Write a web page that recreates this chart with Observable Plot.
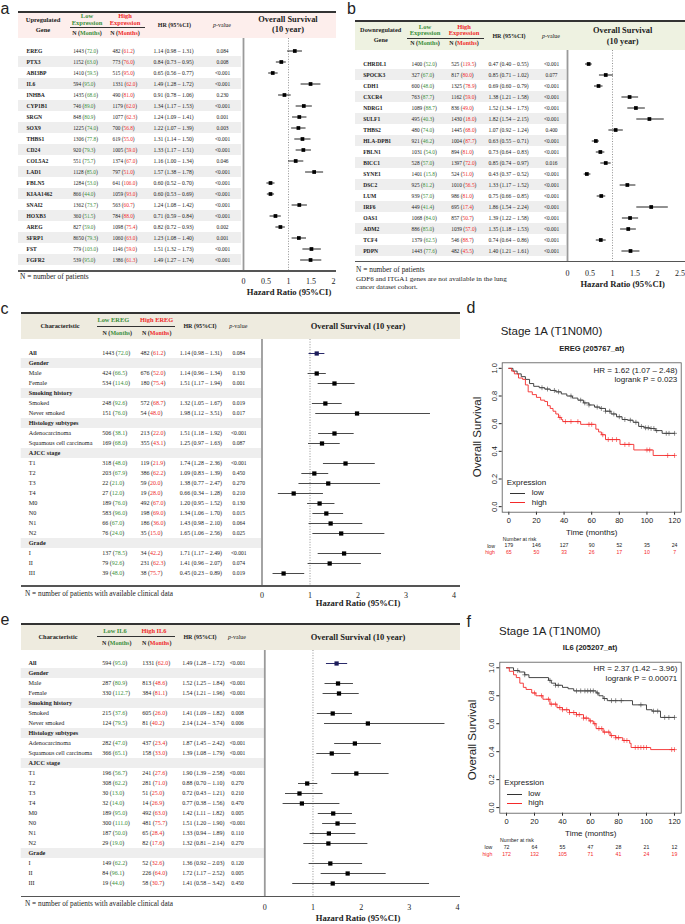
<!DOCTYPE html>
<html><head><meta charset="utf-8">
<script src="https://cdn.jsdelivr.net/npm/d3@7"></script>
<script src="https://cdn.jsdelivr.net/npm/@observablehq/plot@0.6"></script>
<style>
body{margin:0;background:#fff;}
#page{position:relative;width:685px;height:924px;overflow:hidden;background:#fff;font-family:"Liberation Serif","Times New Roman",serif;color:#222;}
#page svg{position:absolute;left:0;top:0;}
.t{position:absolute;white-space:nowrap;line-height:1;}
.ln{position:absolute;}
</style></head><body><div id="page"></div><script>
// ---------------- DATA ----------------
// Panel a: upregulated genes
const upGenes = ["EREG","PTX3","ABI3BP","IL6","INHBA","CYP1B1","SRGN","SOX9","THBS1","CD24","COL5A2","LAD1","FBLN5","KIAA1462","SNAI2","HOXB3","AREG","SFRP1","FST","FGFR2"];
const upLowN = [1443,1152,1410,594,1435,746,848,1225,1306,920,551,1128,1284,866,1362,360,827,8650,779,539];
const upLowM = [72.0,63.0,59.5,95.0,68.6,89.0,80.9,74.0,77.8,79.3,75.7,85.0,53.0,44.0,73.7,51.5,59.0,79.3,103.0,95.0];
const upHighN = [482,773,515,1331,490,1179,1077,700,619,1005,1374,797,641,1059,563,784,1098,1060,1146,1386];
const upHighM = [61.2,76.0,95.0,62.0,81.0,62.0,62.3,56.8,55.0,59.0,67.0,51.0,106.0,93.0,60.7,88.0,75.4,63.0,59.0,61.3];
const upHR = [1.14,0.84,0.65,1.49,0.91,1.34,1.24,1.22,1.31,1.33,1.16,1.57,0.60,0.60,1.24,0.71,0.82,1.23,1.51,1.49];
const upLo = [0.98,0.73,0.56,1.28,0.78,1.17,1.09,1.07,1.14,1.17,1.00,1.38,0.52,0.53,1.08,0.59,0.72,1.08,1.32,1.27];
const upHi = [1.31,0.95,0.77,1.72,1.06,1.53,1.41,1.39,1.50,1.51,1.34,1.78,0.70,0.69,1.42,0.84,0.93,1.40,1.73,1.74];
const upP = ["0.084","0.008","<0.001","<0.001","0.230","<0.001","0.001","0.003","<0.001","<0.001","0.046","<0.001","<0.001","<0.001","<0.001","<0.001","0.002","0.001","<0.001","<0.001"];

// Panel b: downregulated genes
const downGenes = ["CHRDL1","SPOCK3","CDH1","CXCR4","NDRG1","SULF1","THBS2","HLA-DPB1","FBLN1","BICC1","SYNE1","DSC2","LUM","IRF6","OAS1","ADM2","TCF4","PDPN"];
const downLowN = [1400,327,600,763,1089,495,480,921,1031,528,1401,925,939,449,1068,886,1379,1443];
const downLowM = [52.0,67.0,48.0,87.7,88.7,40.3,74.0,46.2,54.0,57.0,15.8,81.2,57.0,41.4,84.0,85.0,62.5,77.6];
const downHighN = [525,817,1325,1162,836,1430,1445,1004,894,1397,524,1010,986,695,857,1039,546,482];
const downHighM = [119.5,80.0,78.9,59.0,49.0,18.0,68.0,87.7,81.0,72.0,51.0,56.5,81.0,17.4,50.7,57.0,88.7,45.5];
const downHR = [0.47,0.85,0.69,1.38,1.52,1.82,1.07,0.63,0.73,0.85,0.43,1.33,0.75,1.86,1.39,1.35,0.74,1.40];
const downLo = [0.40,0.71,0.60,1.21,1.34,1.54,0.92,0.55,0.64,0.74,0.37,1.17,0.66,1.54,1.22,1.18,0.64,1.21];
const downHi = [0.55,1.02,0.79,1.58,1.73,2.15,1.24,0.71,0.83,0.97,0.52,1.52,0.85,2.24,1.58,1.53,0.86,1.61];
const downP = ["<0.001","0.077","<0.001","<0.001","<0.001","<0.001","0.400","<0.001","<0.001","0.016","<0.001","<0.001","<0.001","<0.001","<0.001","<0.001","<0.001","<0.001"];

// Panels c & e: clinical subgroups
const clinLabels = ["All","Gender","Male","Female","Smoking history","Smoked","Never smoked","Histology subtypes","Adenocarcinoma","Squamous cell carcinoma","AJCC stage","T1","T2","T3","T4","M0","N0","N1","N2","Grade","I","II","III"];
const clinGroups = ["All","Gender","Smoking history","Histology subtypes","AJCC stage","Grade"];

const eregLowN = [1443,null,424,534,null,248,151,null,506,169,null,318,203,22,27,189,583,66,76,null,137,79,39];
const eregLowM = [72.0,null,66.5,114.0,null,92.6,76.0,null,38.1,68.0,null,48.0,67.9,21.0,12.0,76.0,96.0,67.0,24.0,null,78.5,92.6,48.0];
const eregHighN = [482,null,676,180,null,572,54,null,213,355,null,119,386,59,19,492,198,186,35,null,34,231,38];
const eregHighM = [61.2,null,52.0,75.4,null,68.7,48.0,null,22.0,43.1,null,21.9,62.2,20.0,28.0,67.0,69.0,36.0,15.0,null,42.2,62.3,75.7];
const eregHR = [1.14,null,1.14,1.51,null,1.32,1.98,null,1.51,1.25,null,1.74,1.09,1.38,0.66,1.20,1.34,1.43,1.65,null,1.71,1.41,0.45];
const eregLo = [0.98,null,0.96,1.17,null,1.05,1.12,null,1.18,0.97,null,1.28,0.83,0.77,0.34,0.95,1.06,0.98,1.06,null,1.17,0.96,0.23];
const eregHi = [1.31,null,1.34,1.94,null,1.67,3.51,null,1.92,1.63,null,2.36,1.39,2.47,1.28,1.52,1.70,2.10,2.56,null,2.49,2.07,0.89];
const eregP = ["0.084",null,"0.130","0.001",null,"0.019","0.017",null,"<0.001","0.087",null,"<0.001","0.450","0.270","0.210","0.130","0.015","0.064","0.025",null,"<0.001","0.074","0.019"];

const il6LowN = [594,null,287,330,null,215,124,null,282,366,null,196,308,30,32,189,300,187,29,null,149,84,19];
const il6LowM = [95.0,null,80.9,112.7,null,37.6,79.5,null,47.0,65.1,null,56.7,62.2,13.0,14.0,95.0,111.0,50.0,19.0,null,62.2,96.1,44.0];
const il6HighN = [1331,null,813,384,null,605,81,null,437,158,null,241,281,51,14,492,481,65,82,null,52,226,58];
const il6HighM = [62.0,null,48.6,81.1,null,26.0,40.2,null,23.4,33.0,null,27.6,71.0,25.0,26.9,63.0,75.7,28.4,17.6,null,32.6,64.0,30.7];
const il6HR = [1.49,null,1.52,1.54,null,1.41,2.14,null,1.87,1.39,null,1.90,0.88,0.72,0.77,1.42,1.51,1.33,1.32,null,1.36,1.72,1.41];
const il6Lo = [1.28,null,1.25,1.21,null,1.09,1.24,null,1.45,1.08,null,1.39,0.70,0.43,0.38,1.11,1.20,0.94,0.81,null,0.92,1.17,0.58];
const il6Hi = [1.72,null,1.84,1.96,null,1.82,3.74,null,2.42,1.79,null,2.58,1.10,1.21,1.56,1.82,1.90,1.89,2.14,null,2.03,2.52,3.42];
const il6P = ["<0.001",null,"<0.001","<0.001",null,"0.008","0.006",null,"<0.001","<0.001",null,"<0.001","0.270","0.210","0.470","0.005","<0.001","0.110","0.270",null,"0.120","0.005","0.450"];

// Forest axis ticks
const ticksA = [0,0.5,1,1.5,2];
const ticksB = [0,0.5,1,1.5,2,2.5];
const ticksCE = [0,1,2,3,4];

// Panel d: EREG Kaplan–Meier
const eregLowT = [0,3,6,9,12,15,18,22,26,30,34,38,42,46,50,54,58,62,66,70,74,78,82,86,90,94,98,102,106,111,120];
const eregLowS = [1.0,0.98,0.96,0.94,0.92,0.89,0.87,0.86,0.85,0.84,0.83,0.815,0.80,0.785,0.77,0.75,0.735,0.72,0.71,0.69,0.67,0.65,0.63,0.625,0.61,0.58,0.57,0.565,0.55,0.53,0.53];
const eregHighT = [0,2,4,7,10,12,14,17,20,23,26,28,30,32,34,36,38,39,52,63,65,67,70,80.5,90.5,104.5,120];
const eregHighS = [1.0,0.98,0.96,0.93,0.92,0.88,0.83,0.81,0.79,0.77,0.76,0.73,0.71,0.69,0.67,0.645,0.63,0.615,0.595,0.56,0.54,0.52,0.485,0.45,0.41,0.37,0.37];
const eregLowCens = [24,28,33,36,45,52,55,58,64,67,70,73,76,80,84,88,92,96,99,101,103,105,107,114,116,120];
const eregHighCens = [37,41,45,50,58,60,68,72,75,78,84,87,100,102,115,120];
// Panel f: IL6 Kaplan–Meier
const il6LowT = [0,5,9,13,16,30,32,35,40,44,48,64,66,69,72,90,100,104,110,120];
const il6LowS = [1.0,0.98,0.97,0.95,0.93,0.91,0.89,0.875,0.86,0.85,0.835,0.82,0.80,0.78,0.765,0.735,0.70,0.69,0.645,0.645];
const il6HighT = [0,2,5,7,9.5,12,14,18,21,26,31,36,40,45,50,55,59,62,64,69,74,78,83,88,89,103,120];
const il6HighS = [1,0.975,0.95,0.93,0.89,0.86,0.845,0.82,0.80,0.775,0.74,0.715,0.70,0.68,0.665,0.64,0.62,0.60,0.565,0.54,0.515,0.50,0.48,0.46,0.43,0.415,0.415];
const il6LowCens = [8,13,31,35,37,50,53,56,58,60,62,65,70,75,78,82,96,105,108,113,116,120];
const il6HighCens = [20,25,30,32,35,38,40,43,45,48,50,52,55,57,60,63,66,68,70,73,75,78,80,84,86,92,94,96,98,100,118,120];

const monthTicks = [0,20,40,60,80,100,120];
const survTicks = [0,0.2,0.4,0.6,0.8,1.0];
const eregRiskLow = [179,146,127,90,52,35,24];
const eregRiskHigh = [65,50,33,26,17,10,7];
const il6RiskLow = [72,64,55,47,28,21,12];
const il6RiskHigh = [172,132,105,71,41,24,19];

// ---------------- HELPERS ----------------
const GREEN = "#3b8f3b", RED = "#ee2a2a", KMRED = "#f42a2a";
const SERIF = "'Liberation Serif','Times New Roman',serif";
const SANS = "'Liberation Sans',Arial,sans-serif";
const page = document.getElementById("page");

function txt(s, x, y, o = {}) {
  const d = document.createElement("div");
  d.className = "t";
  d.innerHTML = s;
  const a = o.anchor || "middle";
  const tx = a === "start" ? "0" : a === "end" ? "-100%" : "-50%";
  d.style.left = x + "px"; d.style.top = y + "px";
  d.style.transform = `translate(${tx},-50%)` + (o.rotate ? ` rotate(${o.rotate}deg)` : "");
  d.style.fontSize = (o.size || 6) + "px";
  if (o.weight) d.style.fontWeight = o.weight;
  d.style.fontFamily = o.family || SERIF;
  if (o.color) d.style.color = o.color;
  page.appendChild(d);
}
function hl(x1, x2, y, w = 1, c = "#333") {
  const d = document.createElement("div"); d.className = "ln";
  Object.assign(d.style, {left: x1 + "px", top: (y - w / 2) + "px", width: (x2 - x1) + "px", height: w + "px", background: c});
  page.appendChild(d);
}
function box(x1, y1, x2, y2, c) {
  const d = document.createElement("div"); d.className = "ln";
  Object.assign(d.style, {left: x1 + "px", top: y1 + "px", width: (x2 - x1) + "px", height: (y2 - y1) + "px", background: c});
  page.appendChild(d);
}
function makeRows(labels, lowN, lowM, highN, highM, hr, lo, hi, p) {
  return labels.map((label, i) => ({label, lowN: lowN[i], lowM: lowM[i], highN: highN[i], highM: highM[i], hr: hr[i], lo: lo[i], hi: hi[i], p: p[i]}));
}
function tint(svg) {
  const groups = [...svg.querySelectorAll("g")].filter(g => {
    const t = g.querySelector(":scope > text");
    return t && /^\d+ \(\d+\.\d\)$/.test(t.textContent);
  });
  const ns = "http://www.w3.org/2000/svg";
  groups.forEach((g, gi) => {
    const color = gi % 2 === 0 ? GREEN : RED;
    g.querySelectorAll(":scope > text").forEach(t => {
      const m = t.textContent.match(/^(\d+) \((.*)\)$/);
      if (!m) return;
      t.textContent = "";
      const a = document.createElementNS(ns, "tspan"); a.textContent = m[1] + " ("; t.appendChild(a);
      const b = document.createElementNS(ns, "tspan"); b.textContent = m[2]; b.setAttribute("fill", color); t.appendChild(b);
      const c = document.createElementNS(ns, "tspan"); c.textContent = ")"; t.appendChild(c);
    });
  });
}

function forest(cfg) {
  const {rows, yFirst, yLast, xDomain, xRange, top, bottom, ticks, tickPad, shade, shadeX, col, fs, sq, bold, navy, lineColor} = cfg;
  const step = (yLast - yFirst) / (rows.length - 1);
  const inv = px => xDomain[0] + (px - xRange[0]) / (xRange[1] - xRange[0]) * (xDomain[1] - xDomain[0]);
  const data = rows.filter(d => d.hr != null);
  const plain = data.filter(d => !navy || d.label !== "All");
  const hl1 = data.filter(d => navy && d.label === "All");
  const hrText = d => `${d.hr.toFixed(2)} (${d.lo.toFixed(2)} – ${d.hi.toFixed(2)})`;
  const T = (rs, o) => Plot.text(rs, Object.assign({y: "label", frameAnchor: "left", textAnchor: "start", fill: "#222"}, o));
  const marks = [
    Plot.barX(rows.filter(shade), {y: "label", x1: () => inv(shadeX[0]), x2: () => inv(shadeX[1]), fill: "#eeeeee"}),
    Plot.ruleX([1], {stroke: "#777", strokeWidth: 0.8, strokeDasharray: "1,1.6"}),
    Plot.ruleX([0], {stroke: "#9a9a9a", strokeWidth: 1.8}),
    Plot.ruleY(plain, {y: "label", x1: "lo", x2: "hi", stroke: lineColor, strokeWidth: 1}),
    Plot.dot(plain, {y: "label", x: "hr", symbol: "square", r: sq, fill: "#000"}),
    Plot.ruleY(hl1, {y: "label", x1: "lo", x2: "hi", stroke: "#2a2a6a", strokeWidth: 1}),
    Plot.dot(hl1, {y: "label", x: "hr", symbol: "square", r: sq, fill: "#1c1c5a"}),
    T(rows.filter(bold), {text: "label", dx: col.label, fontWeight: "bold", fontSize: fs.label}),
    T(rows.filter(d => !bold(d)), {text: "label", dx: col.label, fontSize: fs.label}),
    T(data, {text: d => `${d.lowN} (${d.lowM.toFixed(1)})`, dx: col.low, fontSize: fs.n}),
    T(data, {text: d => `${d.highN} (${d.highM.toFixed(1)})`, dx: col.high, fontSize: fs.n}),
    T(data, {text: hrText, dx: col.hr, fontSize: fs.hr}),
    T(data, {text: "p", dx: col.p, textAnchor: "middle", fontSize: fs.p})
  ];
  const svg = Plot.plot({
    width: 685, height: 924,
    marginLeft: 0, marginRight: 0, marginTop: top, marginBottom: 924 - bottom,
    x: {domain: xDomain, range: xRange, ticks, tickFormat: d => String(d), tickSize: 0, tickPadding: tickPad, label: null},
    y: {type: "band", domain: rows.map(d => d.label), range: [yFirst - step / 2, yLast + step / 2], padding: 0, axis: null},
    style: {background: "transparent", fontFamily: SERIF, fontSize: "8px", color: "#222", overflow: "visible"},
    marks
  });
  tint(svg);
  page.appendChild(svg);
}

function stepAt(T, S, t) { let v = S[0]; for (let i = 0; i < T.length; i++) if (T[i] <= t) v = S[i]; return v; }

function km(cfg) {
  const {bx, lowT, lowS, highT, highS, lowC, highC, riskLow, riskHigh, riskDy} = cfg;
  const low = lowT.map((t, i) => ({t, s: lowS[i]}));
  const high = highT.map((t, i) => ({t, s: highS[i]}));
  const cens = (T, S, C) => C.map(t => ({t, s: stepAt(T, S, t)}));
  const rl = monthTicks.map((t, i) => ({t, n: riskLow[i]}));
  const rh = monthTicks.map((t, i) => ({t, n: riskHigh[i]}));
  const svg = Plot.plot({
    width: 685, height: 924,
    marginLeft: bx[0], marginRight: 685 - bx[1], marginTop: bx[2], marginBottom: 924 - bx[3],
    x: {domain: [-4.8, 124.8], ticks: monthTicks, tickFormat: d => String(d), tickSize: 3, tickPadding: 2.5, label: null},
    y: {domain: [-0.04, 1.04], ticks: survTicks, tickFormat: d => d.toFixed(1), tickSize: 3, tickPadding: 2.5, tickRotate: -90, label: null},
    style: {background: "transparent", fontFamily: SANS, fontSize: "7.5px", color: "#222", overflow: "visible"},
    marks: [
      Plot.frame({stroke: "#555", strokeWidth: 0.8}),
      Plot.line(low, {x: "t", y: "s", curve: "step-after", stroke: "#333", strokeWidth: 0.9}),
      Plot.line(high, {x: "t", y: "s", curve: "step-after", stroke: KMRED, strokeWidth: 0.9}),
      Plot.dot(cens(lowT, lowS, lowC), {x: "t", y: "s", symbol: "plus", r: 1.7, stroke: "#444", strokeWidth: 0.6}),
      Plot.dot(cens(highT, highS, highC), {x: "t", y: "s", symbol: "plus", r: 1.7, stroke: KMRED, strokeWidth: 0.6}),
      Plot.text(rl, {x: "t", text: "n", frameAnchor: "bottom", dy: riskDy[0], fontSize: 5.2, fill: "#222"}),
      Plot.text(rh, {x: "t", text: "n", frameAnchor: "bottom", dy: riskDy[1], fontSize: 5.2, fill: KMRED})
    ]
  });
  page.appendChild(svg);
}

// ---------------- BACKGROUND DECORATION ----------------
box(18, 12, 336, 38, "#fdeeec");
box(355, 21, 685, 50, "#eef2e1");
box(20.7, 313, 460, 339, "#eeebdf");
box(20.7, 624, 460, 650, "#eeebdf");

// ---------------- PANELS ----------------
const rowsA = makeRows(upGenes, upLowN, upLowM, upHighN, upHighM, upHR, upLo, upHi, upP);
forest({rows: rowsA, yFirst: 47.7, yLast: 261.7, xDomain: [0, 2], xRange: [243, 333], top: 38, bottom: 271,
  ticks: ticksA, tickPad: 6.5, shade: (d) => rowsA.indexOf(d) % 2 === 1, shadeX: [18, 241],
  col: {label: 26, low: 72.7, high: 112, hr: 153, p: 222}, fs: {label: 5.6, n: 5.3, hr: 5.6, p: 5.4}, sq: 2.1,
  bold: () => true, navy: false, lineColor: "#222"});

const rowsB = makeRows(downGenes, downLowN, downLowM, downHighN, downHighM, downHR, downLo, downHi, downP);
forest({rows: rowsB, yFirst: 60, yLast: 253, xDomain: [0, 2.5], xRange: [567, 679.5], top: 50, bottom: 261.7,
  ticks: ticksB, tickPad: 8, shade: (d) => rowsB.indexOf(d) % 2 === 1, shadeX: [355, 566],
  col: {label: 362.7, low: 411, high: 450.7, hr: 488, p: 551}, fs: {label: 5.6, n: 5.4, hr: 5.6, p: 5.4}, sq: 2.1,
  bold: () => true, navy: false, lineColor: "#222"});

const rowsC = makeRows(clinLabels, eregLowN, eregLowM, eregHighN, eregHighM, eregHR, eregLo, eregHi, eregP);
forest({rows: rowsC, yFirst: 349.3, yLast: 576, xDomain: [0, 4], xRange: [261.5, 453.5], top: 339, bottom: 586,
  ticks: ticksCE, tickPad: 6, shade: d => d.hr == null, shadeX: [20.7, 261],
  col: {label: 28.3, low: 101.7, high: 140, hr: 179.3, p: 238.3}, fs: {label: 6.2, n: 6, hr: 5.9, p: 5.6}, sq: 2.4,
  bold: d => clinGroups.includes(d.label), navy: true, lineColor: "#4a4a4a"});

const rowsE = makeRows(clinLabels, il6LowN, il6LowM, il6HighN, il6HighM, il6HR, il6Lo, il6Hi, il6P);
forest({rows: rowsE, yFirst: 659.3, yLast: 887, xDomain: [0, 4], xRange: [264.3, 457], top: 650, bottom: 896.7,
  ticks: ticksCE, tickPad: 7, shade: d => d.hr == null, shadeX: [20.7, 264],
  col: {label: 28, low: 101.7, high: 141.7, hr: 181.7, p: 237}, fs: {label: 6.2, n: 6, hr: 5.9, p: 5.6}, sq: 2.4,
  bold: d => clinGroups.includes(d.label), navy: true, lineColor: "#4a4a4a"});

km({bx: [501.7, 680.7, 362.3, 511.7], lowT: eregLowT, lowS: eregLowS, highT: eregHighT, highS: eregHighS,
  lowC: eregLowCens, highC: eregHighCens, riskLow: eregRiskLow, riskHigh: eregRiskHigh, riskDy: [35, 41.6]});
km({bx: [499.3, 680.7, 661.7, 812.7], lowT: il6LowT, lowS: il6LowS, highT: il6HighT, highS: il6HighS,
  lowC: il6LowCens, highC: il6HighCens, riskLow: il6RiskLow, riskHigh: il6RiskHigh, riskDy: [35.3, 42.3]});

// ---------------- LINES ----------------
hl(18, 336, 12, 1.5, "#333"); hl(70, 145, 27.3, 0.8, "#333"); hl(18, 336, 271, 1.2, "#555");
hl(355, 685, 21, 1.5, "#333"); hl(406.7, 484, 38.3, 0.8, "#333"); hl(355, 685, 261.7, 1.2, "#555");
hl(20.7, 460, 313, 1.5, "#333"); hl(97, 175, 326.7, 0.8, "#333"); hl(20.7, 460, 586, 1.2, "#555");
hl(20.7, 460, 624, 1.5, "#333"); hl(97, 175, 636.7, 0.8, "#333"); hl(20.7, 460, 896.7, 1.2, "#555");
// KM legends
hl(510, 525, 493.3, 1, "#333"); hl(510, 525, 502.7, 1, KMRED);
hl(506.7, 521.7, 794, 1, "#333"); hl(506.7, 521.7, 803.3, 1, KMRED);

// ---------------- TEXT ----------------
const L = {family: SANS, size: 16, anchor: "start"};
txt("a", 0.5, 8.5, L); txt("b", 347, 8.7, L); txt("c", 0.5, 308.5, L);
txt("d", 466.5, 307.8, L); txt("e", 0.5, 620, L); txt("f", 466.5, 622, L);

const B = "bold";
// a header
txt("Upregulated", 43, 20, {size: 6.5, weight: B}); txt("Gene", 43, 29.5, {size: 6.5, weight: B});
txt("Low", 87, 16, {size: 6.5, weight: B, color: GREEN}); txt("Expression", 87, 22.7, {size: 6.5, weight: B, color: GREEN});
txt("High", 125, 16, {size: 6.5, weight: B, color: RED}); txt("Expression", 125, 22.7, {size: 6.5, weight: B, color: RED});
txt(`N (<span style="color:${GREEN}">Months</span>)`, 87, 33.3, {size: 6, weight: B});
txt(`N (<span style="color:${RED}">Months</span>)`, 125, 33.3, {size: 6, weight: B});
txt("HR (95%CI)", 174.3, 24.7, {size: 6, weight: B});
txt("<i>p</i>-value", 222, 24.7, {size: 6});
txt("Overall Survival", 288, 20, {size: 8.4, weight: B}); txt("(10 year)", 288, 29.7, {size: 8.4, weight: B});
txt("N = number of patients", 20, 277, {size: 7.4, anchor: "start"});
txt("Hazard Ratio (95%CI)", 289, 292, {size: 8.6, weight: B});
// b header
txt("Downregulated", 380.7, 30, {size: 6.3, weight: B}); txt("Gene", 380.7, 40, {size: 6.3, weight: B});
txt("Low", 425, 26.7, {size: 6.5, weight: B, color: GREEN}); txt("Expression", 425, 33.3, {size: 6.5, weight: B, color: GREEN});
txt("High", 464, 26.7, {size: 6.5, weight: B, color: RED}); txt("Expression", 464, 33.3, {size: 6.5, weight: B, color: RED});
txt(`N (<span style="color:${GREEN}">Months</span>)`, 425, 43.3, {size: 6, weight: B});
txt(`N (<span style="color:${RED}">Months</span>)`, 464, 43.3, {size: 6, weight: B});
txt("HR (95%CI)", 509, 36, {size: 6, weight: B});
txt("<i>p</i>-value", 551, 36, {size: 6});
txt("Overall Survival", 622.7, 30.7, {size: 8.4, weight: B}); txt("(10 year)", 622.7, 41.7, {size: 8.4, weight: B});
txt("N = number of patients", 356, 270, {size: 7.4, anchor: "start"});
txt("GDF6 and ITGA1 genes are not available in the lung", 356, 279.7, {size: 7.1, anchor: "start"});
txt("cancer dataset cohort.", 356, 288.3, {size: 7.1, anchor: "start"});
txt("Hazard Ratio (95%CI)", 622.7, 284, {size: 8.6, weight: B});
// c header
txt("Characteristic", 60, 326, {size: 6.4, weight: B});
txt("Low EREG", 113.3, 320, {size: 6.4, weight: B, color: GREEN});
txt("High EREG", 156.7, 320, {size: 6.4, weight: B, color: RED});
txt(`N (<span style="color:${GREEN}">Months</span>)`, 117.3, 333.3, {size: 6, weight: B});
txt(`N (<span style="color:${RED}">Months</span>)`, 156.7, 333.3, {size: 6, weight: B});
txt("HR (95%CI)", 200, 326, {size: 6, weight: B});
txt("<i>p</i>-value", 238.3, 326, {size: 6});
txt("Overall Survival (10 year)", 358, 326, {size: 8.5, weight: B});
txt("N = number of patients with available clinical data", 25, 594, {size: 7.3, anchor: "start"});
txt("Hazard Ratio (95%CI)", 358, 603.3, {size: 8.6, weight: B});
// e header
txt("Characteristic", 58, 636.7, {size: 6.4, weight: B});
txt("Low IL6", 115, 630.7, {size: 6.4, weight: B, color: GREEN});
txt("High IL6", 154, 630.7, {size: 6.4, weight: B, color: RED});
txt(`N (<span style="color:${GREEN}">Months</span>)`, 116.7, 643.3, {size: 6, weight: B});
txt(`N (<span style="color:${RED}">Months</span>)`, 156.7, 643.3, {size: 6, weight: B});
txt("HR (95%CI)", 200, 636.7, {size: 6, weight: B});
txt("<i>p</i>-value", 237, 636.7, {size: 6});
txt("Overall Survival (10 year)", 358, 636.7, {size: 8.5, weight: B});
txt("N = number of patients with available clinical data", 25, 904.3, {size: 7.3, anchor: "start"});
txt("Hazard Ratio (95%CI)", 358, 918, {size: 8.6, weight: B});
// d texts
txt("Stage 1A (T1N0M0)", 500.7, 331.7, {family: SANS, size: 11.5, anchor: "start"});
txt("EREG (205767_at)", 591.7, 349.3, {family: SANS, size: 7.6, weight: B});
txt("Overall Survival", 478.3, 436.7, {family: SANS, size: 11.5, rotate: -90});
txt("Time (months)", 591.7, 532.7, {family: SANS, size: 8});
txt("HR = 1.62 (1.07 – 2.48)", 677.3, 370.7, {family: SANS, size: 8, anchor: "end"});
txt("logrank P = 0.023", 677.3, 380, {family: SANS, size: 8, anchor: "end"});
txt("Expression", 506.7, 483.3, {family: SANS, size: 8, anchor: "start"});
txt("low", 531.7, 493.3, {family: SANS, size: 8, anchor: "start"});
txt("high", 531.7, 502.7, {family: SANS, size: 8, anchor: "start"});
txt("Number at risk", 502.7, 540, {family: SANS, size: 5.2, anchor: "start"});
txt("low", 495, 546.7, {family: SANS, size: 5.2, anchor: "end"});
txt("high", 495, 553.3, {family: SANS, size: 5.2, anchor: "end", color: KMRED});
// f texts
txt("Stage 1A (T1N0M0)", 499, 631.7, {family: SANS, size: 11.5, anchor: "start"});
txt("IL6 (205207_at)", 590, 648.3, {family: SANS, size: 7.6, weight: B});
txt("Overall Survival", 472.7, 740, {family: SANS, size: 11.5, rotate: -90});
txt("Time (months)", 590.7, 834, {family: SANS, size: 8});
txt("HR = 2.37 (1.42 – 3.96)", 677.3, 669.3, {family: SANS, size: 8, anchor: "end"});
txt("logrank P = 0.00071", 677.3, 679.3, {family: SANS, size: 8, anchor: "end"});
txt("Expression", 504.3, 783.3, {family: SANS, size: 8, anchor: "start"});
txt("low", 528.3, 794, {family: SANS, size: 8, anchor: "start"});
txt("high", 528.3, 803.3, {family: SANS, size: 8, anchor: "start"});
txt("Number at risk", 500, 840.7, {family: SANS, size: 5.2, anchor: "start"});
txt("low", 492.3, 848, {family: SANS, size: 5.2, anchor: "end"});
txt("high", 492.3, 855, {family: SANS, size: 5.2, anchor: "end", color: KMRED});
</script></body></html>
